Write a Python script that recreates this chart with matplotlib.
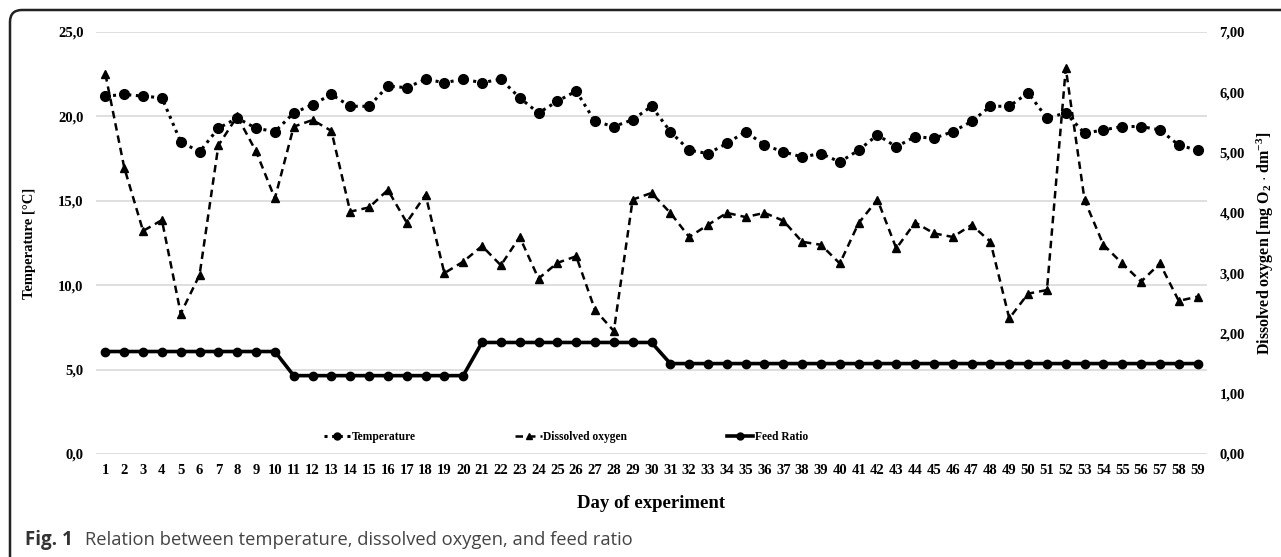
import numpy as np
import matplotlib
matplotlib.use("Agg")
import matplotlib.pyplot as plt
from matplotlib.path import Path
from matplotlib.patches import PathPatch

# data
days = list(range(1, 60))
temperature = [21.2, 21.3, 21.2, 21.1, 18.5, 17.9, 19.3, 19.9, 19.3, 19.1,
               20.2, 20.7, 21.3, 20.6, 20.6, 21.8, 21.7, 22.2, 22.0, 22.2,
               22.0, 22.2, 21.1, 20.2, 20.9, 21.5, 19.7, 19.4, 19.8, 20.6,
               19.1, 18.0, 17.8, 18.4, 19.1, 18.3, 17.9, 17.6, 17.8, 17.3,
               18.0, 18.9, 18.2, 18.8, 18.7, 19.1, 19.7, 20.6, 20.6, 21.4,
               19.9, 20.2, 19.0, 19.2, 19.4, 19.4, 19.2, 18.3, 18.0]
dissolved_oxygen = [6.30, 4.75, 3.70, 3.88, 2.33, 2.97, 5.12, 5.60, 5.02, 4.24,
                    5.43, 5.54, 5.36, 4.02, 4.09, 4.38, 3.84, 4.30, 3.00, 3.19,
                    3.45, 3.13, 3.60, 2.91, 3.17, 3.28, 2.39, 2.04, 4.22, 4.33,
                    4.00, 3.60, 3.80, 4.00, 3.93, 4.00, 3.87, 3.52, 3.47, 3.16,
                    3.83, 4.22, 3.41, 3.84, 3.66, 3.60, 3.80, 3.52, 2.25, 2.66,
                    2.72, 6.40, 4.21, 3.47, 3.16, 2.86, 3.16, 2.54, 2.61]
feed_ratio = [1.70] * 10 + [1.30] * 10 + [1.85] * 10 + [1.50] * 29

left_ticks = [0, 5, 10, 15, 20, 25]
right_ticks = [0, 1, 2, 3, 4, 5, 6, 7]

serif = ["Liberation Serif", "DejaVu Serif"]
plt.rcParams["mathtext.fontset"] = "custom"
plt.rcParams["mathtext.rm"] = "Liberation Serif:bold"
plt.rcParams["mathtext.it"] = "Liberation Serif:bold"
plt.rcParams["mathtext.bf"] = "Liberation Serif:bold"
W, H = 1281, 557
x0, x1, ytop, ybot = 96, 1207, 32, 454

fig = plt.figure(figsize=(W / 100, H / 100), dpi=100)
ax = fig.add_axes([x0 / W, 1 - ybot / H, (x1 - x0) / W, (ybot - ytop) / H])
ax2 = ax.twinx()

ln1, = ax.plot(days, temperature, color="black", linestyle=(0, (1, 1.5)), linewidth=2.2,
               marker="o", markersize=7, label="Temperature")
ln2, = ax2.plot(days, dissolved_oxygen, color="black", linestyle=(0, (3, 2)), linewidth=1.8,
                marker="^", markersize=6, label="Dissolved oxygen")
ln3, = ax2.plot(days, feed_ratio, color="black", linestyle="-", linewidth=2.6,
                marker="o", markersize=6, label="Feed Ratio")

ax.set_xlim(0.5, 59.5)
ax.set_ylim(0, 25)
ax2.set_ylim(0, 7)
ax.set_yticks(left_ticks)
ax.set_yticklabels([f"{v:.1f}".replace(".", ",") for v in left_ticks])
ax2.set_yticks(right_ticks)
ax2.set_yticklabels([f"{v:.2f}".replace(".", ",") for v in right_ticks])
ax.set_xticks(days)
ax.set_xticklabels([str(d) for d in days])

ax.grid(axis="y", color="#d9d9d9", linewidth=1.2)
ax.set_axisbelow(True)
for a in (ax, ax2):
    for s in a.spines.values():
        s.set_visible(False)
    a.tick_params(length=0)
ax.tick_params(axis="x", pad=7)
ax.tick_params(axis="y", pad=9)
ax2.tick_params(axis="y", pad=9)

for lab in ax.get_xticklabels() + ax.get_yticklabels() + ax2.get_yticklabels():
    lab.set_fontfamily(serif)
    lab.set_fontweight("bold")
    lab.set_fontsize(10.5)

ax.set_xlabel("Day of experiment", fontfamily=serif, fontweight="bold", fontsize=13.5)
ax.xaxis.set_label_coords(0.5, -(504 - ybot) / (ybot - ytop))
ax.xaxis.label.set_va("center")
ax.set_ylabel("Temperature [°C]", fontfamily=serif, fontweight="bold", fontsize=10.5)
ax.yaxis.set_label_coords((30 - x0) / (x1 - x0), 0.5)
ax.yaxis.label.set_va("center")
ax2.set_ylabel(r"Dissolved oxygen [mg O$_2$ $\cdot$ dm$^{-3}$]", fontfamily=serif,
               fontweight="bold", fontsize=11.5)
ax2.yaxis.set_label_coords((1265 - x0) / (x1 - x0), 0.5)
ax2.yaxis.label.set_va("center")

leg = ax.legend([ln1, ln2, ln3], ["Temperature", "Dissolved oxygen", "Feed Ratio"],
                ncol=3, loc="center", bbox_to_anchor=((566 - x0) / (x1 - x0), (ybot - 437) / (ybot - ytop)),
                frameon=False, handlelength=2.3, handletextpad=0.15, columnspacing=8.6,
                prop={"family": serif, "weight": "bold", "size": 8.3})
for h in leg.legend_handles:
    h.set_markersize(5)

# rounded frame (top and left edges) and caption
verts = [(10 / W, -0.05), (10 / W, 1 - 22 / H), (10 / W, 1 - 10 / H), (22 / W, 1 - 10 / H), (1.05, 1 - 10 / H)]
codes = [Path.MOVETO, Path.LINETO, Path.CURVE3, Path.CURVE3, Path.LINETO]
fig.patches.append(PathPatch(Path(verts, codes), transform=fig.transFigure,
                             fill=False, edgecolor="#222222", linewidth=1.8))

fig.text(25 / W, 1 - 540 / H, "Fig. 1", fontfamily="Open Sans", fontweight="bold",
         fontsize=13.5, color="#333333", va="center")
fig.text(85 / W, 1 - 540 / H, "Relation between temperature, dissolved oxygen, and feed ratio",
         fontfamily="Open Sans", fontsize=13.2, color="#444444", va="center")

fig.savefig("out.png", dpi=100)
